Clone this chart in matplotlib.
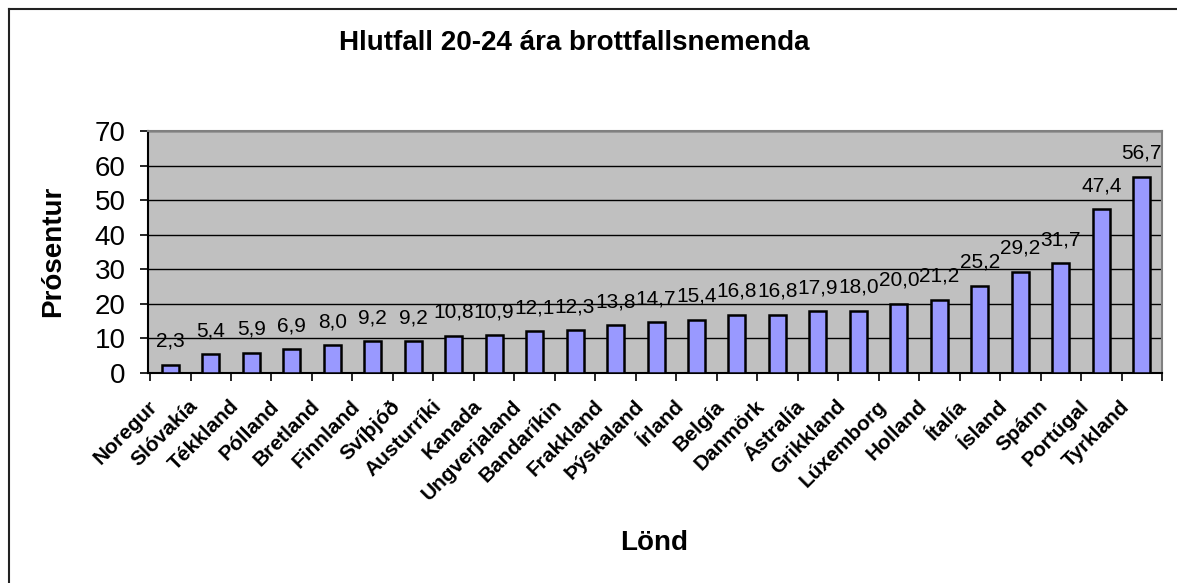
import matplotlib.pyplot as plt
from matplotlib.lines import Line2D

plt.rcParams['font.family'] = ['Liberation Sans', 'DejaVu Sans']

lond = ['Noregur', 'Slóvakía', 'Tékkland', 'Pólland', 'Bretland', 'Finnland',
        'Svíþjóð', 'Austurríki', 'Kanada', 'Ungverjaland', 'Bandaríkin',
        'Frakkland', 'Þýskaland', 'Írland', 'Belgía', 'Danmörk', 'Ástralía',
        'Grikkland', 'Lúxemborg', 'Holland', 'Ítalía', 'Ísland', 'Spánn',
        'Portúgal', 'Tyrkland']
prosentur = [2.3, 5.4, 5.9, 6.9, 8.0, 9.2, 9.2, 10.8, 10.9, 12.1, 12.3, 13.8,
             14.7, 15.4, 16.8, 16.8, 17.9, 18.0, 20.0, 21.2, 25.2, 29.2, 31.7,
             47.4, 56.7]

W, H = 1177, 583
fig = plt.figure(figsize=(W / 100, H / 100), dpi=100)
ax = fig.add_axes([148 / W, 1 - 373 / H, (1162 - 148) / W, (373 - 131) / H])

# outer chart border (only left and top edges visible in the original)
fig.lines.append(Line2D([8.5 / W, 8.5 / W], [0, 1 - 8.5 / H],
                        transform=fig.transFigure, color='#222222', lw=1.5))
fig.lines.append(Line2D([8.5 / W, 1], [1 - 8.5 / H, 1 - 8.5 / H],
                        transform=fig.transFigure, color='#222222', lw=1.5))

x = range(len(lond))
ax.bar(x, prosentur, width=0.42, color='#9999FF', edgecolor='black',
       linewidth=1.8, zorder=3)

for i, v in zip(x, prosentur):
    ax.annotate(f'{v:.1f}'.replace('.', ','), (i, v), xytext=(0, 13),
                textcoords='offset points', ha='center', va='baseline',
                fontsize=15, zorder=4)

ax.set_facecolor('#C0C0C0')
ax.set_xlim(-0.5, len(lond) - 0.5)
ax.set_ylim(0, 70)
ax.set_yticks(range(0, 71, 10))
ax.yaxis.grid(True, color='black', linewidth=1.0, zorder=1)
ax.set_axisbelow(True)

# major ticks between categories, labels on invisible minor ticks
# nudged a bit left like the original Excel chart
ax.set_xticks([i - 0.5 for i in range(len(lond) + 1)], minor=False)
ax.set_xticklabels([])
ax.set_xticks([i - 0.55 for i in x], minor=True)
ax.set_xticklabels(lond, minor=True, rotation=45, ha='right',
                   rotation_mode='anchor', fontsize=15, fontweight='bold')
ax.tick_params(axis='x', which='minor', length=0, pad=17)
ax.tick_params(axis='x', which='major', length=6, direction='out', width=1.2)
ax.tick_params(axis='y', labelsize=20, length=6, width=1.2, pad=10)

for side in ['top', 'right']:
    ax.spines[side].set_color('#808080')
    ax.spines[side].set_linewidth(1.5)
ax.spines['left'].set_linewidth(1.5)
ax.spines['bottom'].set_linewidth(1.5)

fig.text(53 / W, 1 - 251 / H, 'Prósentur', rotation=90, ha='center',
         va='center', fontsize=20, fontweight='bold')
fig.text(654 / W, 1 - 550 / H, 'Lönd', ha='center', va='baseline',
         fontsize=20, fontweight='bold')
fig.text(574 / W, 1 - 50 / H, 'Hlutfall 20-24 ára brottfallsnemenda',
         ha='center', va='baseline', fontsize=20, fontweight='bold')

fig.savefig('out.png', dpi=100)
